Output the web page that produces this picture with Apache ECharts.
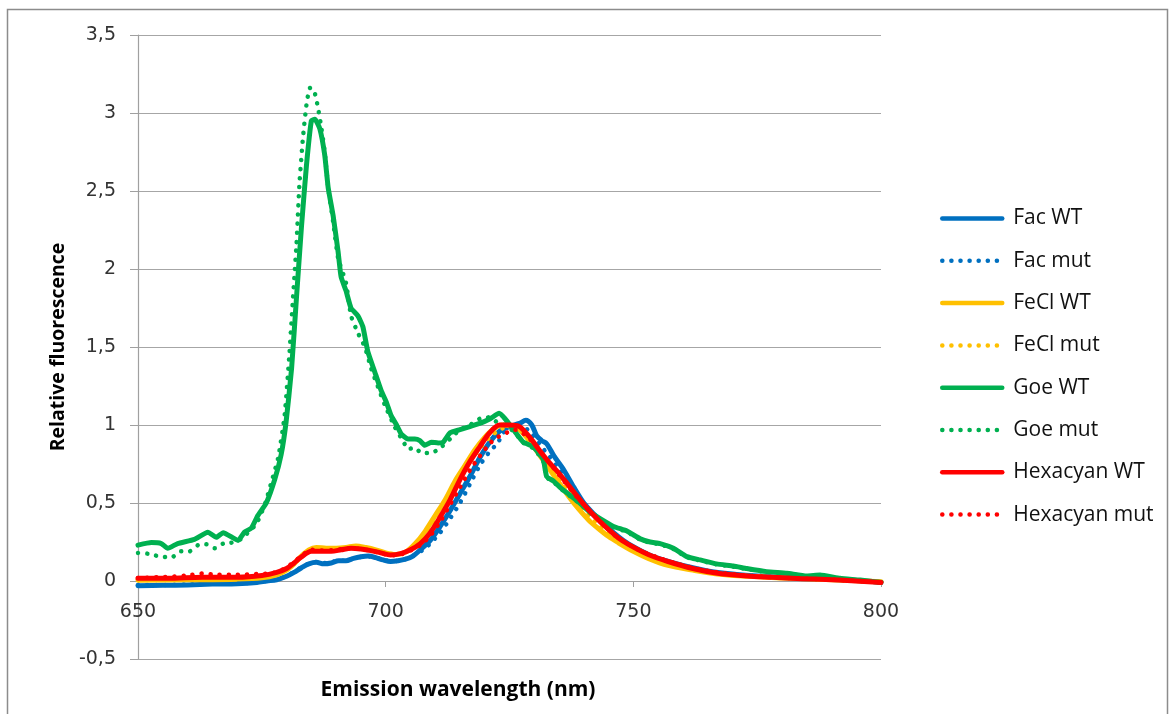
<!DOCTYPE html>
<html>
<head>
<meta charset="utf-8">
<script src="https://cdn.jsdelivr.net/npm/echarts@6/dist/echarts.min.js"></script>
<style>
html,body{margin:0;padding:0;background:#fff;}
#chart{width:1171px;height:714px;}
</style>
</head>
<body>
<div id="chart"></div>
<script>
// Tick labels
const xTicks = [650, 700, 750, 800];
const yTicks = [-0.5, 0, 0.5, 1, 1.5, 2, 2.5, 3, 3.5];
const seriesNames = ['Fac WT','Fac mut','FeCl WT','FeCl mut','Goe WT','Goe mut','Hexacyan WT','Hexacyan mut'];

// [wavelength nm, relative fluorescence]
const facWT = [[650,-0.03],[655,-0.028],[660,-0.025],[665,-0.02],[670,-0.018],[674,-0.01],[676,0],[678,0.008],[680,0.03],[681.5,0.055],[683,0.085],[684.5,0.11],[686,0.12],[687.5,0.11],[689,0.115],[690.5,0.13],[692,0.13],[693.5,0.145],[695,0.155],[696.5,0.16],[698,0.15],[699.5,0.135],[701,0.125],[702.5,0.13],[704,0.14],[705.5,0.16],[707,0.2],[709,0.26],[711,0.35],[713,0.45],[715,0.56],[717,0.67],[719,0.79],[721,0.89],[723,0.96],[725,0.99],[727,1.01],[728.3,1.03],[729.5,1.0],[730.5,0.93],[731.5,0.9],[732.5,0.88],[734,0.8],[736,0.71],[738,0.6],[740,0.5],[742,0.43],[744,0.37],[746,0.31],[748,0.26],[750,0.22],[753,0.17],[756,0.135],[760,0.1],[765,0.065],[770,0.045],[775,0.032],[780,0.022],[785,0.015],[790,0.009],[795,0.003],[800,-0.008]];
const facMut = [[650,-0.025],[655,-0.025],[660,-0.022],[665,-0.018],[670,-0.015],[674,-0.008],[676,0.002],[678,0.01],[680,0.032],[681.5,0.058],[683,0.088],[684.5,0.112],[686,0.122],[688,0.115],[690,0.128],[692,0.132],[694,0.148],[696,0.158],[698,0.15],[700,0.132],[702,0.128],[704,0.14],[706,0.17],[708,0.21],[709,0.24],[711,0.31],[713,0.4],[715,0.5],[717,0.62],[719,0.74],[721,0.83],[722.5,0.88],[724,0.96],[725.5,1.0],[727,1.0],[729,0.96],[731,0.88],[733,0.8],[735,0.72],[737,0.63],[739,0.54],[741,0.46],[743,0.39],[745,0.33],[747,0.28],[750,0.215],[753,0.165],[757,0.12],[762,0.08],[767,0.05],[773,0.032],[780,0.022],[790,0.01],[800,-0.006]];
const feclWT = [[650,0.005],[660,0.008],[670,0.012],[675,0.02],[678,0.04],[680,0.07],[681.5,0.11],[683,0.16],[684.5,0.2],[686,0.215],[688,0.21],[690,0.21],[692,0.215],[694,0.225],[696,0.215],[698,0.2],[700,0.18],[702,0.17],[704,0.185],[706,0.24],[708,0.32],[710,0.42],[712,0.52],[714,0.64],[716,0.74],[718,0.84],[720,0.92],[722,0.98],[723.5,1.0],[725.5,0.99],[727,0.97],[729,0.9],[731,0.81],[733,0.72],[735,0.63],[737,0.54],[739,0.46],[741,0.39],[743,0.335],[745,0.285],[747,0.245],[750,0.19],[753,0.145],[757,0.1],[762,0.07],[767,0.045],[773,0.03],[780,0.02],[790,0.008],[800,-0.005]];
const feclMut = [[650,0.01],[660,0.015],[670,0.02],[675,0.028],[678,0.045],[680,0.072],[681.5,0.11],[683,0.158],[685,0.2],[687,0.205],[690,0.205],[693,0.215],[696,0.208],[699,0.185],[701,0.168],[703,0.172],[705,0.2],[707,0.26],[709,0.34],[711,0.44],[713,0.55],[715,0.66],[717,0.76],[719,0.85],[721,0.92],[723,0.97],[725,0.99],[727,0.97],[729,0.91],[731,0.82],[733,0.74],[735,0.66],[737,0.57],[739,0.49],[741,0.42],[743,0.36],[745,0.305],[747,0.26],[750,0.2],[753,0.155],[757,0.11],[762,0.075],[767,0.048],[773,0.031],[780,0.021],[790,0.009],[800,-0.006]];
const goeWT = [[650,0.23],[652.7,0.246],[654.7,0.24],[656,0.21],[658,0.24],[661.4,0.267],[664.1,0.313],[665.8,0.28],[667.2,0.31],[670.2,0.26],[671.5,0.313],[672.9,0.34],[674.2,0.42],[675.9,0.5],[677.6,0.65],[678.9,0.81],[679.9,1.02],[681,1.36],[682,1.82],[683,2.27],[684,2.66],[685,2.95],[685.7,2.96],[686.7,2.9],[687.7,2.73],[688.4,2.52],[689.4,2.34],[690.4,2.11],[691,1.95],[692,1.86],[693,1.75],[694.4,1.7],[695.4,1.63],[696.4,1.47],[697.8,1.34],[699.1,1.22],[700.1,1.15],[701.1,1.06],[702.2,1.0],[703.2,0.94],[704.5,0.91],[705.9,0.91],[706.9,0.9],[707.9,0.87],[709.2,0.89],[710.6,0.885],[711.6,0.89],[713,0.95],[715,0.97],[717,0.99],[719,1.01],[721.1,1.04],[722.9,1.075],[724.1,1.04],[725.8,0.97],[727.8,0.89],[729.8,0.86],[731.8,0.78],[732.5,0.67],[733.9,0.64],[735.2,0.6],[737.2,0.55],[739.2,0.5],[741.3,0.44],[743.3,0.4],[746,0.35],[748.7,0.32],[751.4,0.27],[753.4,0.25],[755.4,0.24],[758.1,0.21],[760.8,0.156],[763.5,0.135],[766.8,0.11],[770.2,0.096],[772.9,0.08],[776.9,0.06],[781,0.05],[785,0.032],[787.7,0.038],[791.7,0.017],[795.8,0.006],[800,-0.01]];
const goeMut = [[650,0.18],[652,0.175],[654,0.16],[656.7,0.15],[658.7,0.19],[660.4,0.19],[662.1,0.23],[663.8,0.235],[665.5,0.21],[667.2,0.24],[668.8,0.245],[670.9,0.27],[672.2,0.31],[673.9,0.365],[675.6,0.49],[676.9,0.63],[678.3,0.79],[679.6,1.06],[680.6,1.47],[681.3,1.82],[682,2.16],[682.6,2.55],[683.3,2.84],[684,3.05],[684.7,3.16],[685.5,3.15],[686.3,3.04],[687,2.91],[687.7,2.75],[688.4,2.52],[689.4,2.3],[690.4,2.07],[692,1.91],[693,1.7],[694.4,1.59],[695.8,1.5],[697.1,1.36],[698.5,1.24],[699.8,1.13],[701.8,0.99],[703.8,0.88],[704.5,0.845],[705.9,0.855],[707.2,0.82],[709.2,0.82],[710.9,0.85],[713,0.91],[715,0.97],[717,1.0],[719,1.04],[721.1,1.05],[722.4,1.02],[724,1.0],[725.8,0.96],[727.8,0.885],[729.8,0.85],[731.8,0.77],[732.5,0.665],[733.9,0.635],[735.2,0.595],[737.2,0.545],[739.2,0.495],[741.3,0.435],[743.3,0.395],[746,0.345],[748.7,0.315],[751.4,0.265],[753.4,0.245],[755.4,0.235],[758.1,0.205],[760.8,0.152],[763.5,0.131],[766.8,0.106],[770.2,0.092],[772.9,0.077],[776.9,0.057],[781,0.047],[785,0.03],[787.7,0.035],[791.7,0.015],[795.8,0.004],[800,-0.01]];
const hexWT = [[650,0.017],[656,0.017],[663,0.024],[670,0.024],[675,0.035],[678,0.055],[680,0.08],[681.5,0.115],[683,0.155],[685,0.19],[687,0.19],[689,0.19],[691,0.2],[693,0.21],[695,0.205],[697,0.195],[699,0.18],[701,0.167],[703,0.175],[705,0.2],[707,0.24],[709,0.31],[711,0.41],[713,0.52],[715,0.65],[717,0.765],[719,0.86],[721,0.95],[723,1.0],[725,1.0],[727,0.99],[729,0.925],[731,0.84],[733,0.76],[735,0.69],[737,0.61],[739,0.53],[741,0.455],[743,0.39],[745,0.33],[747,0.275],[749,0.235],[753,0.17],[757,0.125],[762,0.08],[767,0.05],[773,0.032],[778,0.024],[784,0.015],[789,0.01],[794,0.002],[800,-0.01]];
const hexMut = [[650,0.02],[655,0.025],[660,0.035],[663,0.048],[666,0.04],[670,0.04],[674,0.045],[677,0.05],[679,0.07],[681,0.11],[683,0.16],[685,0.2],[687,0.195],[690,0.2],[693,0.21],[696,0.2],[699,0.18],[701,0.165],[703,0.17],[705,0.195],[707,0.23],[709,0.29],[711,0.38],[713,0.49],[715,0.6],[717,0.71],[719,0.8],[721,0.88],[722.5,0.92],[724.4,0.95],[726,0.97],[728,0.94],[730,0.88],[732,0.8],[734,0.72],[736,0.64],[738,0.56],[740,0.49],[742,0.42],[744,0.36],[746,0.3],[748,0.255],[751,0.2],[755,0.15],[760,0.1],[765,0.065],[771,0.04],[778,0.025],[785,0.015],[792,0.006],[800,-0.008]];

const seriesData = [facWT, facMut, feclWT, feclMut, goeWT, goeMut, hexWT, hexMut];
const colors = ['#0070C0','#0070C0','#FFC000','#FFC000','#00B050','#00B050','#FF0000','#FF0000'];
const dotted = [false,true,false,true,false,true,false,true];

const chart = echarts.init(document.getElementById('chart'), null, {renderer:'canvas'});

const series = seriesData.map((d, i) => ({
  name: seriesNames[i],
  type: 'line',
  data: d,
  symbol: 'none',
  showSymbol: false,
  smooth: (i === 4 || i === 5) ? 0.15 : 0.3,
  z: 2 + i,
  lineStyle: dotted[i]
    ? {color: colors[i], width: 4.5, type: [0.1, 9], cap: 'round', join: 'round'}
    : {color: colors[i], width: 5, type: 'solid', cap: 'round', join: 'round'},
  itemStyle: {color: colors[i]},
  emphasis: {disabled: true}
}));

chart.setOption({
  animation: false,
  backgroundColor: '#ffffff',
  grid: {left: 138, right: 290, top: 35, bottom: 55, containLabel: false},
  legend: {
    orient: 'vertical',
    left: 935,
    top: 203,
    itemWidth: 60,
    itemHeight: 14,
    itemGap: 21.3,
    itemStyle: {color: 'rgba(0,0,0,0)', borderWidth: 0, opacity: 0},
    lineStyle: {width: 4.5, cap: 'round'},
    textStyle: {fontFamily: 'Open Sans', fontSize: 21, color: '#111', lineHeight: 20, padding: [0,0,0,6]},
    data: seriesNames
  },
  xAxis: {
    type: 'value',
    min: 650, max: 800, interval: 50,
    offset: -78,
    axisLine: {show: true, onZero: false, lineStyle: {color: '#a0a0a0', width: 1.2}},
    axisTick: {show: true, length: 6, lineStyle: {color: '#a0a0a0'}},
    axisLabel: {margin: 22, fontFamily: 'DejaVu Sans', fontSize: 19, color: '#333',
      formatter: v => String(v)},
    splitLine: {show: false}
  },
  yAxis: {
    type: 'value',
    min: -0.5, max: 3.5, interval: 0.5,
    name: 'Relative fluorescence',
    nameLocation: 'middle',
    nameGap: 70,
    nameRotate: 90,
    nameTextStyle: {fontFamily: 'Open Sans', fontWeight: 'bold', fontSize: 19.5, color: '#000'},
    axisLine: {show: true, lineStyle: {color: '#a0a0a0', width: 1.2}},
    axisTick: {show: true, length: 8, lineStyle: {color: '#a0a0a0'}},
    axisLabel: {margin: 22, fontFamily: 'DejaVu Sans', fontSize: 19, color: '#333',
      formatter: v => String(v).replace('.', ',')},
    splitLine: {show: true, lineStyle: {color: '#a6a6a6', width: 1.2}}
  },
  graphic: [
    {type: 'rect', silent: true, z: -1, shape: {x: 7.5, y: 9.5, width: 1160, height: 740},
     style: {fill: 'none', stroke: '#8c8c8c', lineWidth: 1.5}},
    {type: 'text', silent: true, x: 458, y: 690,
     style: {text: 'Emission wavelength (nm)', x: 0, y: 0, align: 'center', verticalAlign: 'middle',
       textAlign: 'center', textVerticalAlign: 'middle',
       font: 'bold 21px "Open Sans"', fill: '#000'}}
  ],
  series: series
});
</script>
</body>
</html>
